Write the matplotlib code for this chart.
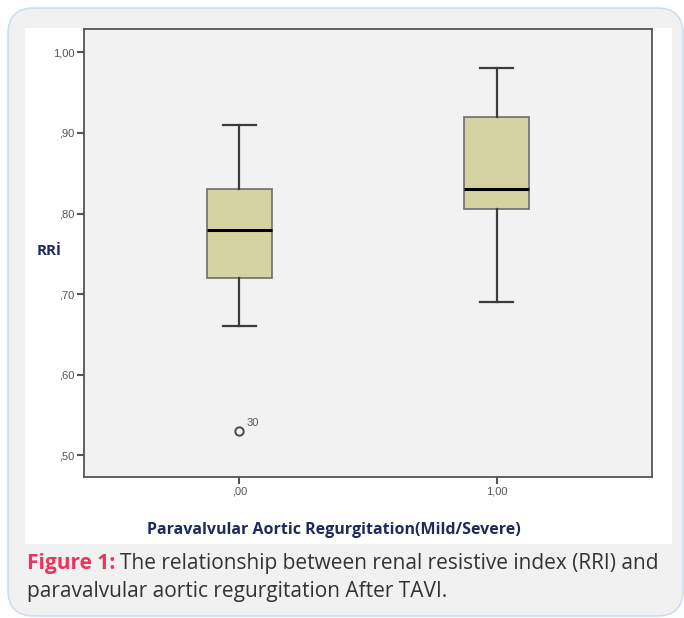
import matplotlib
matplotlib.use("Agg")
import matplotlib.pyplot as plt
from matplotlib.patches import FancyBboxPatch, Rectangle

# box statistics
groups = [0.0, 1.0]
tick_labels = [",00", "1,00"]
whislo = [0.66, 0.69]
q1 = [0.72, 0.805]
med = [0.78, 0.83]
q3 = [0.83, 0.92]
whishi = [0.91, 0.98]
fliers = [[0.53], []]
flier_ids = [["30"], []]

yticks = [0.5, 0.6, 0.7, 0.8, 0.9, 1.0]
ytick_labels = [",50", ",60", ",70", ",80", ",90", "1,00"]

W, H = 684, 618
fig = plt.figure(figsize=(W / 100, H / 100), dpi=100)
fig.patch.set_facecolor("white")

# rounded card behind everything
card = FancyBboxPatch((8, 2), 675, H - 10, boxstyle="round,pad=0,rounding_size=26",
                      transform=None, facecolor="#f1f1f1", edgecolor="#c9e0f0",
                      linewidth=1.2, zorder=-2)
fig.patches.append(card)
panel = Rectangle((25, H - 544), 672 - 25, 544 - 28, transform=None,
                  facecolor="white", edgecolor="none", zorder=-1)
fig.patches.append(panel)

ax = fig.add_axes([84 / W, 1 - 477 / H, (652 - 84) / W, (477 - 29) / H])
ax.set_facecolor("#f2f2f2")

stats = []
for i in range(len(groups)):
    stats.append({"whislo": whislo[i], "q1": q1[i], "med": med[i], "q3": q3[i],
                  "whishi": whishi[i], "fliers": fliers[i]})

ax.bxp(stats, positions=groups, widths=0.25, patch_artist=True,
       boxprops=dict(facecolor="#d5d3a1", edgecolor="#6e6e6e", linewidth=1.2),
       medianprops=dict(color="black", linewidth=2.2),
       whiskerprops=dict(color="#3c3c3c", linewidth=1.6),
       capprops=dict(color="#3c3c3c", linewidth=1.6),
       capwidths=0.125,
       flierprops=dict(marker="o", markersize=6, markerfacecolor="none",
                       markeredgecolor="#4a4a4a", markeredgewidth=1.4))

for i in range(len(groups)):
    for v, lab in zip(fliers[i], flier_ids[i]):
        ax.annotate(lab, (groups[i], v), xytext=(5, 4), textcoords="offset points",
                    fontsize=8, color="#555555", family="Liberation Sans")

ax.set_xlim(-0.605, 1.605)
ax.set_ylim(0.473, 1.029)
ax.set_xticks(groups)
ax.set_xticklabels(tick_labels)
ax.set_yticks(yticks)
ax.set_yticklabels(ytick_labels)
ax.tick_params(axis="both", labelsize=8, labelcolor="#555555", color="#555555",
               length=5, width=1.5, pad=2)
for lab in ax.get_xticklabels() + ax.get_yticklabels():
    lab.set_family("Liberation Sans")
for s in ax.spines.values():
    s.set_color("#555555")
    s.set_linewidth(1.3)

fig.text(49 / W, 1 - 251 / H, "RRİ", fontsize=11, fontweight="bold",
         color="#1f2a5c", ha="center", va="center", family="Open Sans")
fig.text(334 / W, 1 - 530 / H, "Paravalvular Aortic Regurgitation(Mild/Severe)",
         fontsize=11.5, fontweight="bold", color="#1f2a5c", ha="center", va="center",
         family="Open Sans")

# caption
cap1 = fig.text(27 / W, 1 - 564 / H, "Figure 1:", fontsize=15, fontweight="bold",
                color="#e8365f", ha="left", va="center", family="Open Sans")
fig.canvas.draw()
bb = cap1.get_window_extent()
fig.text((bb.x1 + 5) / W, 1 - 564 / H,
         "The relationship between renal resistive index (RRI) and",
         fontsize=15, color="#333333", ha="left", va="center", family="Open Sans")
fig.text(27 / W, 1 - 592 / H, "paravalvular aortic regurgitation After TAVI.",
         fontsize=15, color="#333333", ha="left", va="center", family="Open Sans")

fig.savefig("out.png", dpi=100)
